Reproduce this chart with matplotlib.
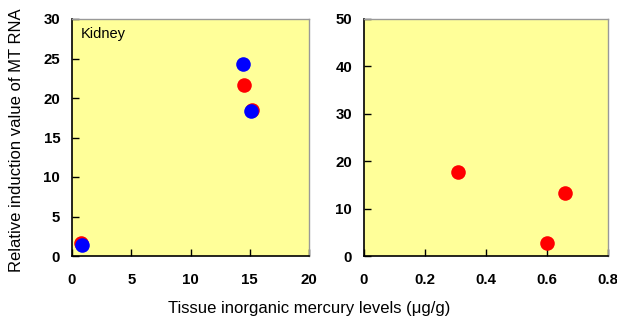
import matplotlib
matplotlib.use("Agg")
import matplotlib.pyplot as plt

plt.rcParams['font.family'] = ['Liberation Sans', 'DejaVu Sans']

# Kidney: tissue inorganic mercury (ug/g) vs relative MT RNA induction
kidney_red_x = [0.8, 14.5, 15.15]
kidney_red_y = [1.6, 21.6, 18.5]
kidney_blue_x = [0.85, 14.45, 15.1]
kidney_blue_y = [1.4, 24.3, 18.3]

# Second tissue
right_red_x = [0.307, 0.659, 0.60]
right_red_y = [17.7, 13.2, 2.7]

left_xticks = [0, 5, 10, 15, 20]
left_yticks = [0, 5, 10, 15, 20, 25, 30]
right_xticks = [0, 0.2, 0.4, 0.6, 0.8]
right_xticklabels = ['0', '0.2', '0.4', '0.6', '0.8']
right_yticks = [0, 10, 20, 30, 40, 50]

W, H = 617, 321
fig = plt.figure(figsize=(W / 100, H / 100), dpi=100)

face = '#FFFF99'
ax1 = fig.add_axes([72 / W, 1 - 256 / H, 237 / W, 237 / H])
ax2 = fig.add_axes([364 / W, 1 - 256 / H, 244 / W, 237 / H])

ms = 110
ax1.scatter(kidney_red_x, kidney_red_y, s=ms, color='#FF0000', zorder=3, linewidths=0)
ax1.scatter(kidney_blue_x, kidney_blue_y, s=ms, color='#0000FF', zorder=4, linewidths=0)
ax1.set_xlim(0, 20)
ax1.set_ylim(0, 30)
ax1.set_xticks(left_xticks)
ax1.set_yticks(left_yticks)
ax1.text(0.035, 0.965, 'Kidney', transform=ax1.transAxes, ha='left', va='top', fontsize=10.5)

ax2.scatter(right_red_x, right_red_y, s=ms, color='#FF0000', zorder=3, linewidths=0)
ax2.set_xlim(0, 0.8)
ax2.set_ylim(0, 50)
ax2.set_xticks(right_xticks)
ax2.set_xticklabels(right_xticklabels)
ax2.set_yticks(right_yticks)

for ax in (ax1, ax2):
    ax.set_facecolor(face)
    for side in ('left', 'bottom'):
        ax.spines[side].set_color('black')
        ax.spines[side].set_linewidth(1.2)
    for side in ('top', 'right'):
        ax.spines[side].set_color('#999999')
        ax.spines[side].set_linewidth(1.0)
    ax.tick_params(direction='in', length=5, width=1, labelsize=10.8,
                   top=False, right=False)
    ax.tick_params(axis='x', pad=12)
    ax.tick_params(axis='y', pad=8.5)
    for lab in ax.get_xticklabels() + ax.get_yticklabels():
        lab.set_fontweight('bold')

fig.text(309 / W, 1 - 309 / H, 'Tissue inorganic mercury levels (\u03bcg/g)',
         ha='center', va='center', fontsize=12)
fig.text(17 / W, 1 - 140 / H, 'Relative induction value of MT RNA',
         ha='center', va='center', rotation=90, fontsize=12)

fig.savefig('out.png', dpi=100)
